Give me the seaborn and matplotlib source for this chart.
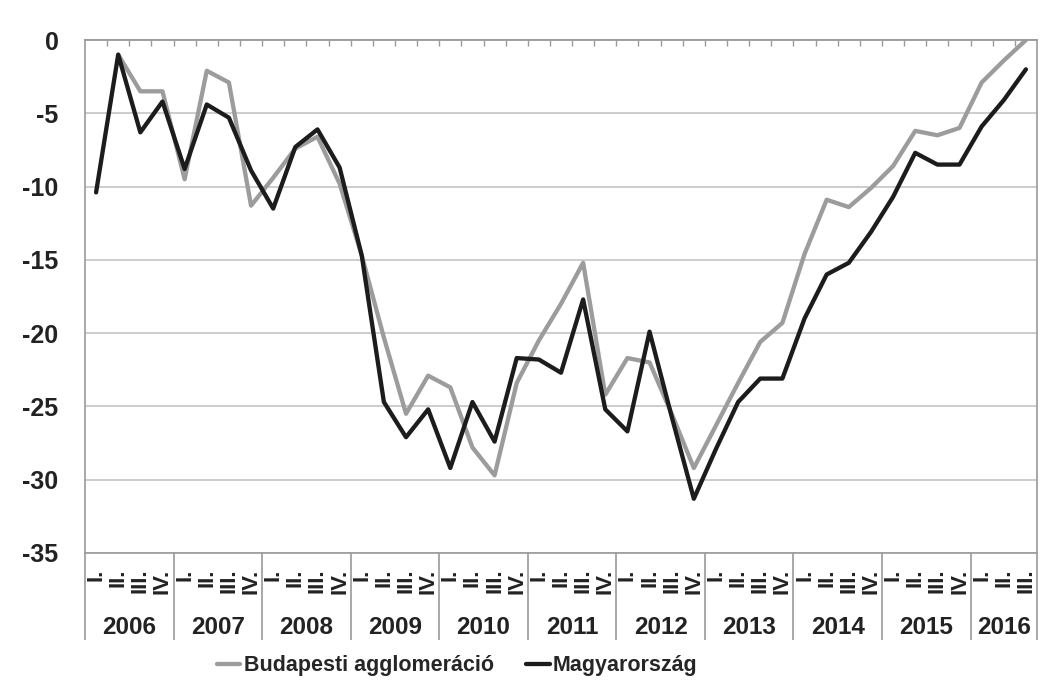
import numpy as np
import pandas as pd
import matplotlib
matplotlib.use("Agg")
import matplotlib.pyplot as plt
import seaborn as sns
from matplotlib.transforms import blended_transform_factory

# ---------------- data ----------------
years = ["2006", "2007", "2008", "2009", "2010", "2011",
         "2012", "2013", "2014", "2015", "2016"]
quarter_names = ["I.", "II.", "III.", "IV."]
series_names = ["Budapesti agglomeráció", "Magyarország"]

budapest = [np.nan, -1.0, -3.5, -3.5, -9.5, -2.1, -2.9, -11.3,
            -9.4, -7.4, -6.6, -9.8, -14.7, -20.3, -25.5, -22.9,
            -23.7, -27.8, -29.7, -23.4, -20.5, -18.0, -15.2, -24.2,
            -21.7, -22.0, -25.5, -29.2, -26.3, -23.4, -20.6, -19.3,
            -14.6, -10.9, -11.4, -10.1, -8.6, -6.2, -6.5, -6.0,
            -2.9, -1.4, 0.0]
magyar = [-10.4, -1.0, -6.3, -4.2, -8.8, -4.4, -5.3, -8.9,
          -11.5, -7.3, -6.1, -8.7, -14.7, -24.7, -27.1, -25.2,
          -29.2, -24.7, -27.4, -21.7, -21.8, -22.7, -17.7, -25.2,
          -26.7, -19.9, -25.7, -31.3, -27.9, -24.7, -23.1, -23.1,
          -19.0, -16.0, -15.2, -13.1, -10.7, -7.7, -8.5, -8.5,
          -5.9, -4.1, -2.0]
y_ticks = [0, -5, -10, -15, -20, -25, -30, -35]

n = len(magyar)
assert len(budapest) == n
quarter_labels = [q for _ in years for q in quarter_names][:n]
year_of_point = [y for y in years for _ in quarter_names][:n]

df = pd.DataFrame({
    "idx": list(range(n)) * 2,
    "value": budapest + magyar,
    "series": [series_names[0]] * n + [series_names[1]] * n,
})

# ---------------- style ----------------
sns.set_theme(style="white")
plt.rcParams["font.family"] = ["Liberation Sans", "DejaVu Sans"]
plt.rcParams["font.weight"] = "bold"

W, H = 1043, 691
fig = plt.figure(figsize=(W / 100, H / 100), dpi=100)
ax_l, ax_r, ax_t, ax_b = 85, 1037, 40, 553
ax = fig.add_axes([ax_l / W, 1 - ax_b / H, (ax_r - ax_l) / W, (ax_b - ax_t) / H])

palette = {series_names[0]: "#9c9c9c", series_names[1]: "#1c1c1c"}
sns.lineplot(data=df, x="idx", y="value", hue="series", hue_order=series_names,
             palette=palette, linewidth=3.1, ax=ax, legend=True)

ax.set_xlim(-0.5, n - 0.5)
ax.set_ylim(min(y_ticks), max(y_ticks))
ax.set_xlabel("")
ax.set_ylabel("")

frame_col = "#9a9a9a"
grid_col = "#cdcdcd"
txt_col = "#222222"
for s in ax.spines.values():
    s.set_color(frame_col)
    s.set_linewidth(1.2)
    s.set_visible(True)

# y axis
ax.set_yticks(y_ticks)
ax.set_yticklabels([str(v) for v in y_ticks], fontsize=18, fontweight="bold",
                   color=txt_col)
ax.tick_params(axis="y", direction="out", length=6, width=1.0, color=frame_col, pad=13)
ax.yaxis.grid(True, color=grid_col, linewidth=1.4)
ax.set_axisbelow(True)

# x axis: category boundaries as major ticks, quarter labels as minor
bounds = np.arange(0.5, n - 0.5, 1.0)
ax.set_xticks(bounds)
ax.set_xticklabels([""] * len(bounds))
ax.tick_params(axis="x", which="major", direction="out", length=32, width=1.0,
               color=frame_col)
ax.set_xticks(np.arange(n), minor=True)
ax.set_xticklabels(quarter_labels, minor=True, rotation=90, fontsize=16,
                   fontweight="bold", color=txt_col)
ax.tick_params(axis="x", which="minor", length=0, pad=11)

# top tick marks (axis crossing at 0)
top = ax.secondary_xaxis("top")
top.set_xticks(bounds)
top.set_xticklabels([""] * len(bounds))
top.tick_params(direction="in", length=4, width=1.0, color=frame_col)
top.spines["top"].set_color(frame_col)

# year separators and year labels
trans = blended_transform_factory(ax.transData, ax.transAxes)
year_edges = [-0.5] + [i + 0.5 for i in range(n - 1) if year_of_point[i] != year_of_point[i + 1]] + [n - 0.5]
sep_len = (640 - ax_b) / (ax_b - ax_t)
ax.vlines(year_edges, -sep_len, 0, transform=trans, colors=frame_col,
          linewidth=1.2, clip_on=False)
year_y = -(627 - ax_b) / (ax_b - ax_t)
for yr in years:
    pos = [i for i in range(n) if year_of_point[i] == yr]
    ax.text(np.mean(pos), year_y, yr, transform=trans, ha="center", va="center",
            fontsize=17.5, fontweight="bold", color=txt_col)

# legend
handles, labels = ax.get_legend_handles_labels()
if ax.legend_ is not None:
    ax.legend_.remove()
for h in handles:
    h.set_linewidth(3.1)
fig.legend(handles, labels, loc="center", bbox_to_anchor=(457 / W, 1 - 666 / H),
           ncol=2, frameon=False, handlelength=1.1, handletextpad=0.15,
           columnspacing=1.5, prop={"size": 15.5, "weight": "bold"})

fig.savefig("out.png", dpi=100, facecolor="white")
